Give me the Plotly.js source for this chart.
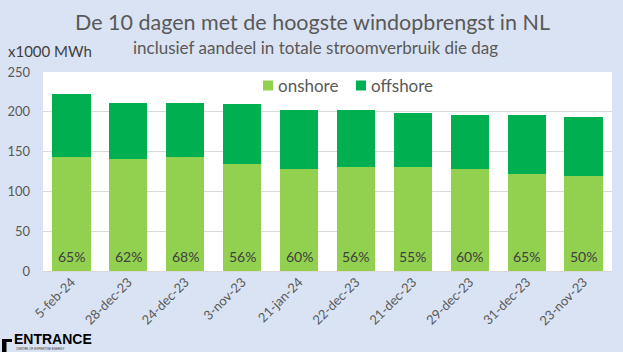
<!DOCTYPE html>
<html>
<head>
<meta charset="utf-8">
<script src="https://cdn.plot.ly/plotly-3.0.1.min.js"></script>
<style>html,body{margin:0;padding:0;background:#DAE3F3;}#chart{width:623px;height:352px;}</style>
</head>
<body>
<div id="chart"></div>
<script>
const dates = ["5-feb-24","28-dec-23","24-dec-23","3-nov-23","21-jan-24","22-dec-23","21-dec-23","29-dec-23","31-dec-23","23-nov-23"];
const onshore = [143.7,141.2,143.7,134.9,128.6,131.1,131.1,128.6,122.3,119.7];
const offshore = [78.1,69.3,66.8,74.3,73.1,70.6,66.8,68.0,73.1,73.2];
const shares = ["65%","62%","68%","56%","60%","56%","55%","60%","65%","50%"];
const seriesNames = ["onshore","offshore"];
const seriesColors = ["#92D050","#00B050"];

const FONT = "Lato, 'Open Sans', sans-serif";
const traces = [
  {type:"bar", name:seriesNames[0], x:dates, y:onshore, marker:{color:seriesColors[0]}, hoverinfo:"y"},
  {type:"bar", name:seriesNames[1], x:dates, y:offshore, marker:{color:seriesColors[1]}, hoverinfo:"y"}
];

// helpers: pixel -> paper
const L=43, R=11, T=72, B=81, W=623, H=352;
const pw=W-L-R, ph=H-T-B;
const px = p => (p-L)/pw;
const py = q => (H-B-q)/ph;

const annotations = [
  {text:"De 10 dagen met de hoogste windopbrengst in NL", xref:"paper", yref:"paper",
   x:px(312.5), y:py(22), xanchor:"center", yanchor:"middle", showarrow:false,
   font:{family:FONT, size:21.5, color:"#595959"}},
  {text:"inclusief aandeel in totale stroomverbruik die dag", xref:"paper", yref:"paper",
   x:px(315), y:py(48), xanchor:"center", yanchor:"middle", showarrow:false,
   font:{family:FONT, size:17, color:"#595959"}},
  {text:"x1000 MWh", xref:"paper", yref:"paper", x:px(6), y:py(51),
   xanchor:"left", yanchor:"middle", showarrow:false,
   font:{family:FONT, size:15, color:"#404040"}},
  {text:"<b>ENTRANCE</b>", xref:"paper", yref:"paper", x:px(13), y:py(347.5),
   xanchor:"left", yanchor:"bottom", showarrow:false, borderpad:0,
   font:{family:"'Liberation Sans', Arial, sans-serif", size:14, color:"#000000"}},
  {text:"CENTRE OF EXPERTISE ENERGY", xref:"paper", yref:"paper", x:px(15), y:py(351.8),
   xanchor:"left", yanchor:"bottom", showarrow:false, borderpad:0,
   font:{family:"'Liberation Sans', Arial, sans-serif", size:3, color:"#333333"}},
  // custom legend labels
  {text:seriesNames[0], xref:"paper", yref:"paper", x:px(275.5), y:py(85.5),
   xanchor:"left", yanchor:"middle", showarrow:false,
   font:{family:FONT, size:17, color:"#595959"}},
  {text:seriesNames[1], xref:"paper", yref:"paper", x:px(368.5), y:py(85.5),
   xanchor:"left", yanchor:"middle", showarrow:false,
   font:{family:FONT, size:17, color:"#595959"}}
];
// percentage labels at the bottom of each onshore bar
dates.forEach((d,i)=>{
  annotations.push({text:shares[i], x:d, y:0, xref:"x", yref:"y", yshift:15,
    xanchor:"center", yanchor:"middle", showarrow:false,
    font:{family:FONT, size:14, color:"#404040"}});
});

const shapes = [
  {type:"rect", xref:"paper", yref:"paper", x0:px(263), x1:px(273), y0:py(90.5), y1:py(80.5),
   fillcolor:seriesColors[0], line:{width:0}},
  {type:"rect", xref:"paper", yref:"paper", x0:px(356), x1:px(366), y0:py(90.5), y1:py(80.5),
   fillcolor:seriesColors[1], line:{width:0}},
  // logo bracket
  {type:"path", xref:"paper", yref:"paper", fillcolor:"#000000", line:{width:0},
   path:`M ${px(2)} ${py(339)} L ${px(12)} ${py(339)} L ${px(12)} ${py(342)} L ${px(6.5)} ${py(342)} L ${px(6.5)} ${py(352)} L ${px(2)} ${py(352)} Z`}
];

const layout = {
  width:W, height:H,
  margin:{l:L, r:R, t:T, b:B},
  paper_bgcolor:"#DAE3F3", plot_bgcolor:"#FFFFFF",
  font:{family:FONT, color:"#595959"},
  barmode:"stack", bargap:0.33,
  showlegend:false,
  xaxis:{type:"category", tickangle:-45, tickfont:{family:FONT, size:13, color:"#595959"},
         showgrid:false, showline:false, ticks:"", automargin:false},
  yaxis:{range:[0,250], dtick:50, tickfont:{family:FONT, size:13, color:"#595959"},
         gridcolor:"#D9D9D9", gridwidth:1, zeroline:true, zerolinecolor:"#D9D9D9",
         showline:false, ticks:"", ticklabelstandoff:12, automargin:false},
  annotations:annotations,
  shapes:shapes
};
Plotly.newPlot("chart", traces, layout, {displayModeBar:false, staticPlot:true});
</script>
</body>
</html>
